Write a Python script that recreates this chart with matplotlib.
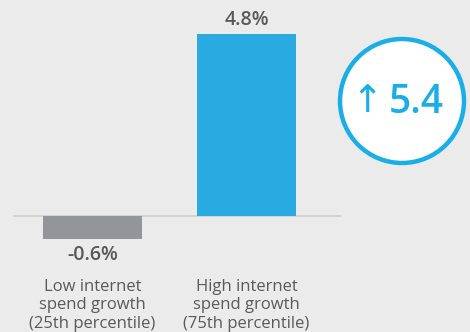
import matplotlib.pyplot as plt
from matplotlib.patches import Circle

categories = ["Low internet\nspend growth\n(25th percentile)",
              "High internet\nspend growth\n(75th percentile)"]
values = [-0.6, 4.8]
value_labels = ["-0.6%", "4.8%"]
colors = ["#939598", "#29abe2"]
difference = 5.4

bg = "#ebebeb"
text_gray = "#58595b"
blue = "#1aaee8"

plt.rcParams['font.family'] = ['Open Sans', 'DejaVu Sans']

fig = plt.figure(figsize=(4.7, 3.32), dpi=100)
fig.patch.set_facecolor(bg)

# main bar axes, baseline spans the chart width
ax = fig.add_axes([13 / 470, 0, 328 / 470, 1])
ax.set_facecolor(bg)
x = list(range(len(values)))
ax.bar(x, values, width=0.643, color=colors, zorder=2)
ax.axhline(0, color="#cfcfcf", lw=1.2, zorder=1)
ax.set_xlim(-0.516, 1.614)
ax.set_ylim(-3.06, 5.70)
ax.axis("off")

for xi, v, lab in zip(x, values, value_labels):
    off = 0.12 if v > 0 else -0.17
    ax.text(xi, v + off, lab, ha="center", va="bottom" if v > 0 else "top",
            fontsize=14, color=text_gray, fontweight="semibold")
    ax.text(xi, -1.66, categories[xi], ha="center", va="top", fontsize=12,
            color=text_gray, linespacing=1.2)

# overlay in pixel units for the difference badge
ov = fig.add_axes([0, 0, 1, 1])
ov.set_xlim(0, 470)
ov.set_ylim(332, 0)
ov.axis("off")
ov.patch.set_alpha(0)
ov.add_patch(Circle((402, 101), 62, facecolor="white", edgecolor=blue, lw=3.2))
ov.text(367, 102, "\u2191", ha="center", va="center", fontsize=27, color=blue,
        family=["DejaVu Sans"])
ov.text(416, 103, f"{difference}", ha="center", va="center", fontsize=28,
        color=blue, fontweight="semibold")

fig.savefig("out.png", dpi=100, facecolor=bg)
